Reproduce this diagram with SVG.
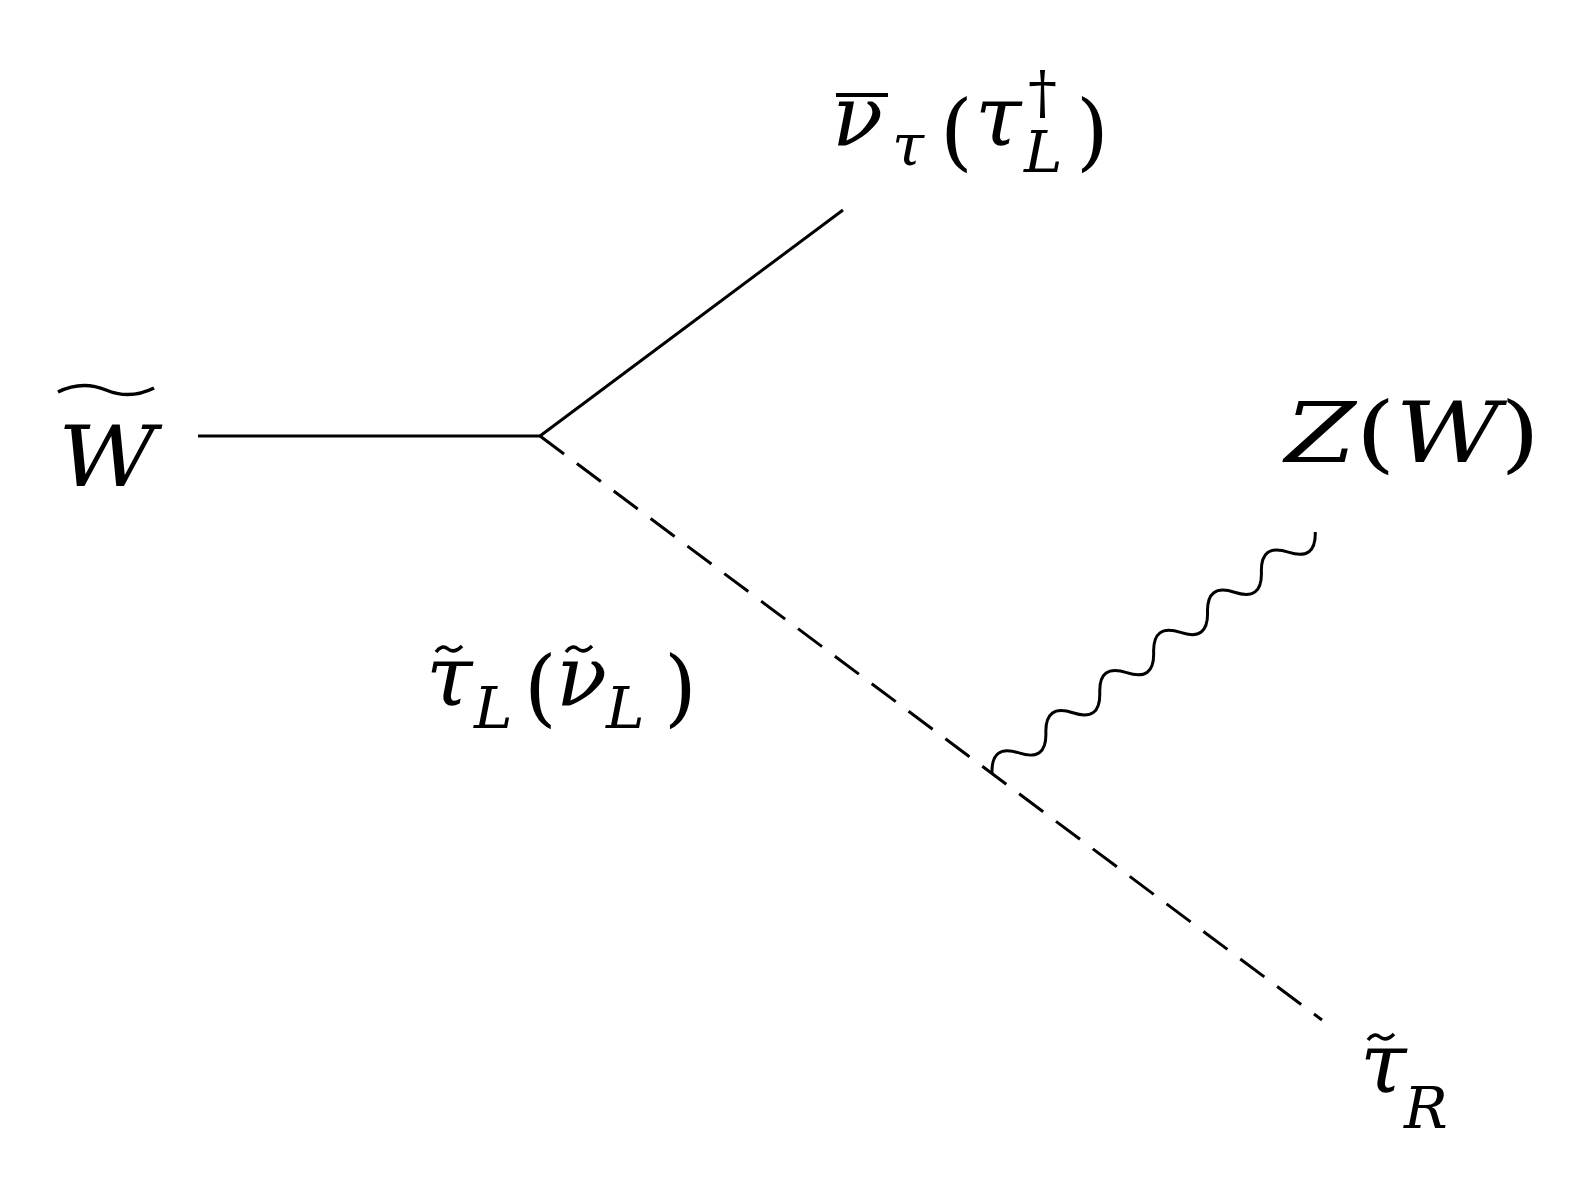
<svg xmlns="http://www.w3.org/2000/svg" width="1591" height="1193" viewBox="0 0 1591 1193">
<style>
.l{stroke:#000;stroke-width:3;fill:none}
.t{font-family:"DejaVu Serif",serif;font-size:84px;fill:#000}
.i{font-style:italic}
.s{font-size:58px}
.tl{stroke:#000;stroke-width:3.5;fill:none}
</style>
<rect width="1591" height="1193" fill="#fff"/>
<g id="connectors">
<line class="l" x1="198" y1="436" x2="541" y2="436"/>
<line class="l" x1="540" y1="436" x2="843" y2="210"/>
<line class="l" x1="540" y1="436" x2="1322" y2="1020" stroke-dasharray="30,16"/>
<path class="l" transform="translate(992,773) rotate(-36.7)" d="M0,0 q16.8,-24 33.6,0 t33.6,0 t33.6,0 t33.6,0 t33.6,0 t33.6,0 t33.6,0 t33.6,0 t33.6,0 t33.6,0 t33.6,0 t33.6,0"/>
</g>
<g id="W">
<text class="t i" x="58" y="486" textLength="98" lengthAdjust="spacingAndGlyphs">W</text>
<path class="tl" d="M58,392 q24,-12 48,-2 t48,-2"/>
</g>
<g id="nu">
<line x1="836" y1="95" x2="888" y2="95" stroke="#000" stroke-width="4"/>
<text class="t i" x="832" y="145">ν</text>
<text class="t i s" x="892" y="165">τ</text>
<text class="t" x="940" y="160">(</text>
<text class="t i" x="975" y="145">τ</text>
<text class="t s" x="1028" y="112">†</text>
<text class="t i s" x="1024" y="172">L</text>
<text class="t" x="1076" y="160">)</text>
</g>
<g id="Z">
<text class="t" x="1285" y="462" textLength="255" lengthAdjust="spacingAndGlyphs"><tspan class="i">Z</tspan>(<tspan class="i">W</tspan>)</text>
</g>
<g id="stauL">
<text class="t i" x="426" y="705">τ</text>
<path class="tl" d="M436,652 q6,-8 12,-3 t14,-3"/>
<text class="t i s" x="474" y="728">L</text>
<text class="t" x="524" y="716">(</text>
<text class="t i" x="556" y="705">ν</text>
<path class="tl" d="M566,652 q6,-8 12,-3 t14,-3"/>
<text class="t i s" x="606" y="728">L</text>
<text class="t" x="664" y="716">)</text>
</g>
<g id="stauR">
<text class="t i" x="1360" y="1092">τ</text>
<path class="tl" d="M1368,1040 q6,-8 12,-3 t14,-3"/>
<text class="t i s" x="1404" y="1128">R</text>
</g>
</svg>
